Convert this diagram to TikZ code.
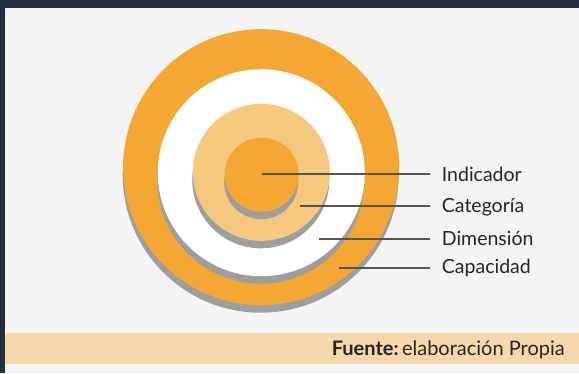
\documentclass[tikz,border=0pt]{standalone}
\usepackage{fontspec}
\setmainfont{Lato}
\usetikzlibrary{shadows, calc}

\definecolor{barDark}{HTML}{232F3F}
\definecolor{pageGray}{HTML}{F4F4F4}
\definecolor{ringOrange}{HTML}{F4A733}
\definecolor{ringLight}{HTML}{F6C87E}
\definecolor{shadowGray}{HTML}{9E9E9E}
\definecolor{leaderGray}{HTML}{555555}
\definecolor{footBar}{HTML}{F5D8AB}

\begin{document}
\begin{tikzpicture}[
  x=1pt, y=-1pt,
  ring/.style   = {circle, inner sep=0pt, draw=none,
                   drop shadow={shadow xshift=-0.5pt, shadow yshift=-7.5pt,
                                fill=shadowGray, opacity=1}},
  leader/.style = {line width=1.8pt, leaderGray},
  label/.style  = {anchor=base west, inner sep=0pt, font=\fontsize{19.5}{22}\selectfont,
                   text=black!85},
]
\useasboundingbox (0,0) rectangle (579,373);

%--------------------------------------------------
% page frame
%--------------------------------------------------
\fill[pageGray] (0,0) rectangle (579,373);
\fill[barDark] (0,0) rectangle (579,8);
\fill[barDark] (0,0) rectangle (4.7,373);

%--------------------------------------------------
% rings (outer to inner)
%--------------------------------------------------
\node[ring, fill=ringOrange, minimum size=276pt] (capacidad) at (261.2,167.2) {};
\node[ring, fill=white, minimum size=207pt]      (dimension) at (261.3,172.7) {};
\node[ring, fill=ringLight, minimum size=137pt]  (categoria) at (261.3,172.3) {};
\node[ring, fill=ringOrange, minimum size=74pt]  (indicador) at (261.7,174.7) {};

%--------------------------------------------------
% labels
%--------------------------------------------------
\node[label] (l_ind) at (441.7,181.3) {Indicador};
\node[label] (l_cat) at (441.7,212.7) {Categoría};
\node[label] (l_dim) at (441.7,245.0) {Dimensión};
\node[label] (l_cap) at (441.7,273.7) {Capacidad};

% leader start points
\coordinate (p_ind) at (261.7,174.3);
\coordinate (p_cat) at (300.0,206.0);
\coordinate (p_dim) at (319.0,239.0);
\coordinate (p_cap) at (338.7,268.3);

\draw[leader] (p_ind) -- ($(p_ind -| l_ind.west) + (-11.5,0)$);
\draw[leader] (p_cat) -- ($(p_cat -| l_cat.west) + (-11.5,0)$);
\draw[leader] (p_dim) -- ($(p_dim -| l_dim.west) + (-11.5,0)$);
\draw[leader] (p_cap) -- ($(p_cap -| l_cap.west) + (-11.5,0)$);

%--------------------------------------------------
% source bar
%--------------------------------------------------
\fill[footBar] (4.7,333.3) rectangle (579,364.3);
\node[anchor=base east, inner sep=0pt, font=\fontsize{20}{22}\selectfont, text=black!85]
  (fuente) at (565,355.5) {\textbf{Fuente:}\,elaboración Propia};

\end{tikzpicture}
\end{document}
